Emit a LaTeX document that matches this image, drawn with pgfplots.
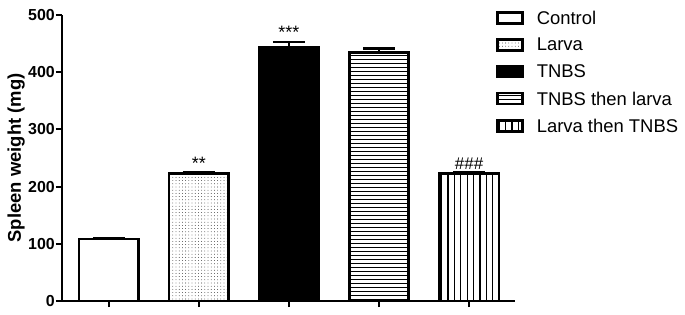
\documentclass[border=0pt]{standalone}
\usepackage{fontspec}
\setmainfont{Liberation Sans}
\usepackage{pgfplots}
\pgfplotsset{compat=1.18}
\usetikzlibrary{patterns.meta}
\begin{document}
\begin{tikzpicture}
\begin{axis}[
  scale only axis, width=453bp, height=286bp,
  xmin=-0.52, xmax=4.51, ymin=0, ymax=500,
  axis lines*=left,
  axis line style={line width=2.5bp},
  xtick={0,1,2,3,4}, xticklabels={},
  ytick={0,100,200,300,400,500},
  tick align=outside, major tick length=6bp,
  tick style={line width=2bp, black},
  /pgf/number format/assume math mode=true,
  tick label style={font=\fontsize{16}{18}\selectfont\bfseries},
  yticklabel style={inner sep=1bp},
  ylabel={\fontsize{18.5}{20}\selectfont\bfseries Spleen weight (mg)},
  ylabel style={yshift=-1bp},
  ybar, bar width=0.66, bar shift=0pt,
  every axis plot/.append style={draw=black, line width=2.5bp},
  error bars/y dir=plus, error bars/y explicit,
  error bars/error bar style={line width=2.5bp, black},
  error bars/error mark options={rotate=90, mark size=16bp, line width=2.5bp, black},
  legend cell align=left,
  legend image code/.code={\draw[#1, line width=2.6bp] (0bp,-5bp) rectangle (25bp,6bp);},
  legend style={at={(0.958,1.022)}, anchor=north west, draw=none, fill=none, inner sep=0pt,
    font=\fontsize{18.5}{20}\selectfont, row sep=8.5bp,
    /tikz/every odd column/.append style={column sep=11bp}},
]
\addplot[fill=white] coordinates {(0,108) +- (0,2.5)};
\addlegendentry{Control}
\addplot[pattern={Dots[distance=3.2bp, radius=0.4bp]}] coordinates {(1,223) +- (0,2.5)};
\addlegendentry{Larva}
\addplot[fill=black] coordinates {(2,443) +- (0,10)};
\addlegendentry{TNBS}
\addplot[pattern={Lines[angle=0, distance=4bp, line width=0.9bp]}] coordinates {(3,434) +- (0,7)};
\addlegendentry{TNBS then larva}
\addplot[pattern={Lines[angle=90, distance=6.4bp, line width=1.1bp]}] coordinates {(4,223) +- (0,2.5)};
\addlegendentry{Larva then TNBS}
\node[anchor=south, font=\fontsize{18}{20}\selectfont, inner sep=1bp] at (axis cs:1,228) {**};
\node[anchor=south, font=\fontsize{18}{20}\selectfont, inner sep=1bp] at (axis cs:2,456) {***};
\node[anchor=south, font=\fontsize{17}{20}\selectfont, inner sep=1bp] at (axis cs:4,227) {\#\#\#};
\end{axis}
\pgfresetboundingbox
\path (-62bp,-14bp) rectangle (623bp,301bp);
\end{tikzpicture}
\end{document}
